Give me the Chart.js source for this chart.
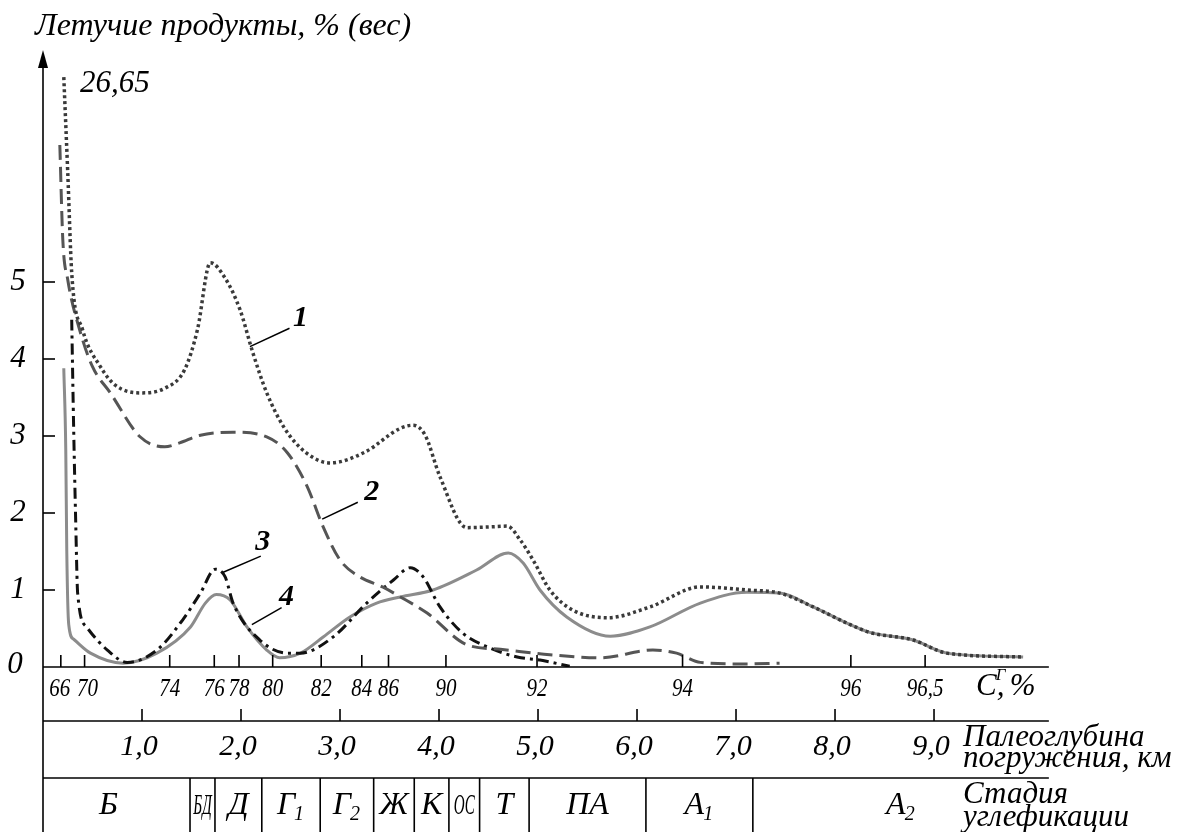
<!DOCTYPE html>
<html>
<head>
<meta charset="utf-8">
<script src="https://cdn.jsdelivr.net/npm/chart.js@4"></script>
<style>
  html, body { margin: 0; padding: 0; background: #fff; }
  canvas { display: block; }
</style>
</head>
<body>
<canvas id="chart" width="1184" height="832"></canvas>
<script>
// x = paleodepth, km (the drawing is linear in depth); y = volatile products, %
// curve 1 (dotted)
const curve1 = [
  [0.21, 7.66], [0.25, 6.42], [0.29, 5.12], [0.40, 4.38], [0.58, 3.90], [0.73, 3.66],
  [0.98, 3.56], [1.23, 3.62], [1.43, 3.86], [1.56, 4.38], [1.69, 5.25], [1.84, 5.05],
  [1.99, 4.64], [2.12, 4.08], [2.26, 3.56], [2.44, 3.10], [2.65, 2.79], [2.90, 2.65],
  [3.25, 2.79], [3.61, 3.10], [3.74, 3.14], [3.86, 3.01], [4.01, 2.47], [4.28, 1.81],
  [4.52, 1.82], [4.69, 1.83], [4.82, 1.65], [4.95, 1.39], [5.12, 1.00], [5.35, 0.74],
  [5.70, 0.64], [6.13, 0.78], [6.64, 1.04], [7.11, 1.00], [7.44, 0.96], [7.78, 0.78],
  [8.12, 0.57], [8.35, 0.45], [8.79, 0.35], [9.13, 0.18], [9.90, 0.13]
];
// curve 2 (dashed)
const curve2 = [
  [0.17, 6.78], [0.20, 5.55], [0.25, 5.03], [0.37, 4.38], [0.50, 3.90], [0.68, 3.56],
  [0.98, 2.99], [1.23, 2.86], [1.38, 2.91], [1.59, 3.01], [1.92, 3.05], [2.26, 2.99],
  [2.47, 2.78], [2.67, 2.34], [2.83, 1.82], [3.00, 1.39], [3.20, 1.17], [3.43, 1.04],
  [3.61, 0.91], [3.88, 0.70], [4.28, 0.29], [4.62, 0.23], [5.12, 0.16], [5.63, 0.12],
  [6.16, 0.22], [6.40, 0.18], [6.64, 0.06], [7.11, 0.04], [7.44, 0.05]
];
// curve 3 (dash-dot)
const curve3 = [
  [0.29, 4.51], [0.31, 3.08], [0.33, 1.91], [0.35, 0.96], [0.44, 0.52], [0.65, 0.22],
  [0.85, 0.06], [1.15, 0.22], [1.41, 0.61], [1.59, 0.96], [1.74, 1.27], [1.84, 1.17],
  [1.92, 0.83], [2.19, 0.35], [2.47, 0.18], [2.60, 0.18], [2.93, 0.39], [3.27, 0.83],
  [3.54, 1.13], [3.71, 1.29], [3.84, 1.17], [4.01, 0.78], [4.24, 0.44], [4.49, 0.26],
  [4.79, 0.13], [5.02, 0.09], [5.32, 0.01]
];
// curve 4 (solid grey)
const curve4 = [
  [0.21, 3.88], [0.23, 2.82], [0.24, 1.52], [0.26, 0.55], [0.31, 0.36], [0.48, 0.18],
  [0.81, 0.05], [1.15, 0.18], [1.49, 0.52], [1.64, 0.83], [1.75, 0.94], [1.89, 0.87],
  [2.06, 0.52], [2.26, 0.22], [2.39, 0.12], [2.60, 0.18], [2.83, 0.39], [3.10, 0.65],
  [3.37, 0.83], [3.61, 0.91], [3.94, 1.00], [4.38, 1.26], [4.70, 1.48], [4.85, 1.35],
  [5.02, 1.00], [5.29, 0.65], [5.73, 0.40], [6.13, 0.52], [6.64, 0.83], [7.11, 0.97],
  [7.44, 0.96], [7.78, 0.78], [8.12, 0.57], [8.35, 0.45], [8.79, 0.35], [9.13, 0.18],
  [9.90, 0.13]
];

const yTicks = [0, 1, 2, 3, 4, 5];
const carbonLabels = ['66', '70', '74', '76', '78', '80', '82', '84', '86', '90', '92', '94', '96', '96,5'];
const carbonAtKm = [0.18, 0.42, 1.28, 1.73, 1.98, 2.32, 2.81, 3.22, 3.49, 4.07, 4.99, 6.46, 8.16, 8.91];
const depthTicks = [1, 2, 3, 4, 5, 6, 7, 8, 9];
const depthLabels = ['1,0', '2,0', '3,0', '4,0', '5,0', '6,0', '7,0', '8,0', '9,0'];
const stageNames = ['Б', 'БД', 'Д', 'Г', 'Г', 'Ж', 'К', 'ОС', 'Т', 'ПА', 'A', 'A'];
const stageSubs = ['', '', '', '1', '2', '', '', '', '', '', '1', '2'];
const stageBounds = [0, 1.485, 1.737, 2.21, 2.80, 3.34, 3.75, 4.10, 4.41, 4.91, 6.09, 7.17, 10.16];
const axisEndKm = 10.16;

const serif = '"Liberation Serif", "DejaVu Serif", serif';

function toXY(arr) {
  return arr.map(p => ({ x: p[0], y: p[1] }));
}

function subText(ctx, base, sub, cx, cy, size) {
  ctx.font = `italic ${size}px ${serif}`;
  const w = ctx.measureText(base).width;
  ctx.font = `italic ${Math.round(size * 0.62)}px ${serif}`;
  const sw = sub ? ctx.measureText(sub).width : 0;
  const x0 = cx - (w + sw) / 2;
  ctx.textAlign = 'left';
  ctx.textBaseline = 'middle';
  ctx.font = `italic ${size}px ${serif}`;
  ctx.fillText(base, x0, cy);
  if (sub) {
    ctx.font = `italic ${Math.round(size * 0.62)}px ${serif}`;
    ctx.fillText(sub, x0 + w - 1, cy + size * 0.28);
  }
}

// axes, ticks and the table under the plot
const frame = {
  id: 'frame',
  afterDatasetsDraw(chart) {
    const ctx = chart.ctx;
    const xs = chart.scales.x, ys = chart.scales.y;
    const X = v => xs.getPixelForValue(v);
    const Y = v => ys.getPixelForValue(v);
    const x0 = X(0), xe = X(axisEndKm), y0 = Y(0);
    const rowDepth = y0 + 54, rowStage = y0 + 111, bottom = chart.height;

    ctx.save();
    ctx.strokeStyle = '#000';
    ctx.fillStyle = '#000';
    ctx.lineWidth = 1.6;

    // y axis with arrow
    ctx.beginPath();
    ctx.moveTo(x0, bottom);
    ctx.lineTo(x0, Y(8) + 14);
    ctx.stroke();
    ctx.beginPath();
    ctx.moveTo(x0, Y(8) - 1);
    ctx.lineTo(x0 - 5, Y(8) + 17);
    ctx.lineTo(x0 + 5, Y(8) + 17);
    ctx.closePath();
    ctx.fill();

    // horizontal rules
    [y0, rowDepth, rowStage].forEach(yy => {
      ctx.beginPath();
      ctx.moveTo(x0, yy);
      ctx.lineTo(xe, yy);
      ctx.stroke();
    });

    // y ticks and labels
    ctx.font = `italic 31px ${serif}`;
    ctx.textAlign = 'center';
    ctx.textBaseline = 'middle';
    yTicks.forEach(t => {
      if (t > 0) {
        ctx.beginPath();
        ctx.moveTo(x0, Y(t));
        ctx.lineTo(x0 + 12, Y(t));
        ctx.stroke();
      }
      ctx.fillText(String(t), t === 0 ? 15 : 18, Y(t) - (t === 0 ? 2 : 0));
    });

    // carbon ticks (labels slightly condensed, as in the print)
    ctx.font = `italic 25px ${serif}`;
    carbonAtKm.forEach((k, i) => {
      ctx.beginPath();
      ctx.moveTo(X(k), y0);
      ctx.lineTo(X(k), y0 - 12);
      ctx.stroke();
      const lx = i === 0 ? X(k) - 1 : (i === 1 ? X(k) + 3 : X(k));
      ctx.save();
      ctx.translate(lx, y0 + 22);
      ctx.scale(0.84, 1);
      ctx.fillText(carbonLabels[i], 0, 0);
      ctx.restore();
    });
    // C^Г, %
    ctx.textAlign = 'left';
    ctx.font = `italic 31px ${serif}`;
    const cx = 976, cy = y0 + 20;
    ctx.fillText('C,', cx, cy);
    const cw = ctx.measureText('C').width;
    ctx.font = `italic 17px ${serif}`;
    ctx.fillText('Г', cx + cw - 1, cy - 11);
    ctx.font = `italic 31px ${serif}`;
    ctx.fillText('%', cx + cw + 13, cy);

    // depth ticks
    ctx.textAlign = 'center';
    ctx.font = `italic 30px ${serif}`;
    depthTicks.forEach((d, i) => {
      ctx.beginPath();
      ctx.moveTo(X(d), rowDepth);
      ctx.lineTo(X(d), rowDepth - 12);
      ctx.stroke();
      ctx.fillText(depthLabels[i], X(d) - 3, rowDepth + 26);
    });
    ctx.textAlign = 'left';
    ctx.font = `italic 31px ${serif}`;
    ctx.fillText('Палеоглубина', 963, rowDepth + 17);
    ctx.fillText('погружения, км', 963, rowDepth + 38);

    // stage cells
    for (let i = 1; i < stageBounds.length - 1; i++) {
      ctx.beginPath();
      ctx.moveTo(X(stageBounds[i]), rowStage);
      ctx.lineTo(X(stageBounds[i]), bottom);
      ctx.stroke();
    }
    stageNames.forEach((n, i) => {
      const mid = (X(stageBounds[i]) + X(stageBounds[i + 1])) / 2;
      const w = X(stageBounds[i + 1]) - X(stageBounds[i]);
      if (n.length > 1 && w < 36) {
        ctx.save();
        ctx.translate(mid, rowStage + 28);
        ctx.scale(0.5, 1);
        subText(ctx, n, stageSubs[i], 0, 0, 30);
        ctx.restore();
      } else {
        subText(ctx, n, stageSubs[i], mid - (i === 0 ? 8 : 0), rowStage + 28, 32);
      }
    });
    ctx.textAlign = 'left';
    ctx.font = `italic 31px ${serif}`;
    ctx.fillText('Стадия', 963, rowStage + 17);
    ctx.fillText('углефикации', 963, rowStage + 40);

    // axis title and the off-scale value
    ctx.font = `italic 32px ${serif}`;
    ctx.fillText('Летучие продукты, % (вес)', 35, 27);
    ctx.font = `italic 31px ${serif}`;
    ctx.fillText('26,65', 80, 84);

    // curve numbers with leader lines
    const marks = [
      ['1', [2.09, 4.16], [2.49, 4.40], [2.60, 4.53]],
      ['2', [2.82, 1.92], [3.18, 2.14], [3.32, 2.27]],
      ['3', [1.82, 1.23], [2.20, 1.44], [2.22, 1.62]],
      ['4', [2.11, 0.55], [2.41, 0.77], [2.46, 0.91]]
    ];
    ctx.lineWidth = 1.5;
    ctx.font = `italic bold 30px ${serif}`;
    ctx.textAlign = 'center';
    marks.forEach(m => {
      ctx.beginPath();
      ctx.moveTo(X(m[1][0]), Y(m[1][1]));
      ctx.lineTo(X(m[2][0]), Y(m[2][1]));
      ctx.stroke();
      ctx.fillText(m[0], X(m[3][0]), Y(m[3][1]));
    });
    ctx.restore();
  }
};

new Chart(document.getElementById('chart'), {
  type: 'line',
  data: {
    datasets: [
      { label: '1', data: toXY(curve1), borderColor: '#3a3a3a', borderWidth: 3.5, borderDash: [3, 3] },
      { label: '2', data: toXY(curve2), borderColor: '#555555', borderWidth: 3, borderDash: [15, 7] },
      { label: '3', data: toXY(curve3), borderColor: '#111111', borderWidth: 3, borderDash: [11, 5, 3, 5] },
      { label: '4', data: toXY(curve4), borderColor: '#8c8c8c', borderWidth: 3 }
    ]
  },
  options: {
    responsive: false,
    animation: false,
    devicePixelRatio: 1,
    layout: { padding: { left: 43, right: 0, top: 51, bottom: 165 } },
    elements: {
      point: { radius: 0 },
      line: { cubicInterpolationMode: 'monotone', fill: false }
    },
    scales: {
      x: { type: 'linear', min: 0, max: 11.525, display: false },
      y: { type: 'linear', min: 0, max: 8, display: false }
    },
    plugins: { legend: { display: false }, tooltip: { enabled: false } }
  },
  plugins: [frame]
});
</script>
</body>
</html>
